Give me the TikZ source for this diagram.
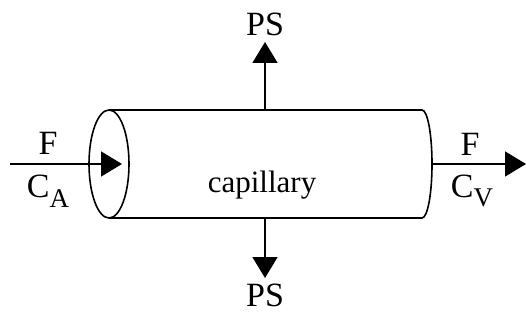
\documentclass[tikz,border=0pt]{standalone}
\usepackage{fontspec}
\setmainfont{Liberation Serif}
\usetikzlibrary{arrows.meta}
\tikzset{
  line/.style={line width=1.6pt, black},
  flow/.style={line, -{Triangle[length=21pt,width=25pt]}},
  lbl/.style={font=\fontsize{34}{34}\selectfont, inner sep=0pt},
  small/.style={font=\fontsize{31}{31}\selectfont, inner sep=0pt}
}
\newcommand{\subsc}[1]{\raisebox{-0.28em}{\fontsize{27}{27}\selectfont #1}}
\begin{document}
\begin{tikzpicture}[x=1pt,y=1pt]
\useasboundingbox (0,0) rectangle (526,321);
% cylinder
\draw[line] (109,157) ellipse [x radius=20, y radius=54];
\draw[line] (109,211) -- (422,211) arc [start angle=90, end angle=-90, x radius=10, y radius=54] -- (109,103);
% points
\coordinate (inS) at (10,157);
\coordinate (inE) at (122,157);
\coordinate (outS) at (432,157);
\coordinate (outE) at (526,157);
\coordinate (upS) at (265,211);
\coordinate (upE) at (265,279);
\coordinate (dnS) at (265,103);
\coordinate (dnE) at (265,43);
\draw[flow] (inS) -- (inE);
\draw[flow] (outS) -- (outE);
\draw[flow] (upS) -- (upE);
\draw[flow] (dnS) -- (dnE);
% labels
\node[lbl] (psT) at (265,297) {PS};
\node[lbl] (psB) at (265,26) {PS};
\node[lbl] (fL) at (48,178) {F};
\node[lbl] (caL) at (48,130) {C\subsc{A}};
\node[lbl] (fR) at (470,177) {F};
\node[lbl] (cvR) at (472,130) {C\subsc{V}};
\node[small] (cap) at (262,136) {capillary};
\end{tikzpicture}
\end{document}
